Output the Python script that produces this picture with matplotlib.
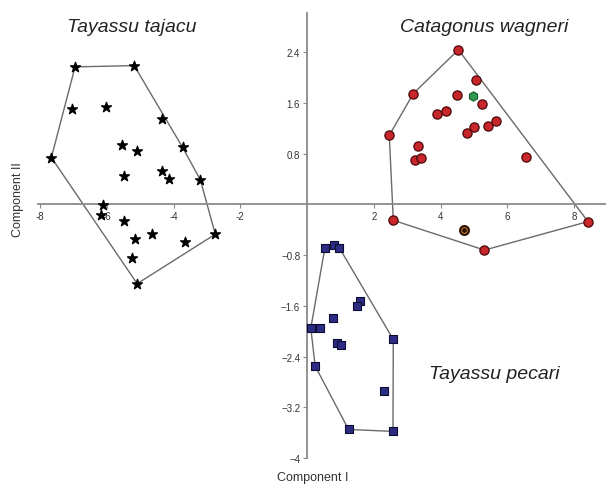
import numpy as np
import matplotlib
matplotlib.use("Agg")
import matplotlib.pyplot as plt

plt.rcParams['font.family'] = ['Liberation Sans', 'DejaVu Sans']

# Component scores
tajacuX = [-6.95, -5.18, -7.05, -6.03, -4.36, -5.53, -5.11, -3.73, -7.66, -5.49, -4.34, -4.15,
           -3.20, -6.11, -6.16, -5.49, -5.15, -4.66, -3.65, -2.75, -5.25, -5.09]
tajacuY = [2.17, 2.19, 1.50, 1.54, 1.35, 0.93, 0.85, 0.90, 0.74, 0.45, 0.52, 0.40,
           0.39, -0.01, -0.16, -0.26, -0.54, -0.47, -0.59, -0.47, -0.84, -1.25]

wagneriX = [4.53, 5.05, 3.18, 4.50, 5.25, 3.90, 4.15, 5.65, 5.42, 5.01, 4.78, 2.46,
            3.32, 3.22, 3.41, 6.54, 2.58, 8.41, 5.31]
wagneriY = [2.44, 1.97, 1.75, 1.72, 1.58, 1.42, 1.48, 1.32, 1.24, 1.22, 1.12, 1.09,
            0.92, 0.70, 0.73, 0.75, -0.25, -0.27, -0.72]
greenPt = (4.97, 1.71)
ringPt = (4.69, -0.40)

pecariX = [0.53, 0.81, 0.96, 1.59, 1.49, 0.78, 0.11, 0.38, 2.58, 0.88, 1.01, 0.24,
           2.31, 1.24, 2.57]
pecariY = [-0.69, -0.64, -0.68, -1.53, -1.61, -1.79, -1.95, -1.95, -2.13, -2.19, -2.22, -2.55,
           -2.95, -3.55, -3.58]

xTicks = [-8, -6, -4, -2, 2, 4, 6, 8]
xTickLabels = ["-8", "-6", "-4", "-2", "2", "4", "6", "8"]
yTicks = [2.4, 1.6, 0.8, -0.8, -1.6, -2.4, -3.2, -4]
yTickLabels = ["2.4", "1.6", "0.8", "\u22120.8", "\u22121.6", "\u22122.4", "\u22123.2", "\u22124"]

# Convex hull (monotone chain)
def convexHull(xs, ys):
    pts = sorted(set(zip(xs, ys)))
    cross = lambda o, a, b: (a[0]-o[0])*(b[1]-o[1]) - (a[1]-o[1])*(b[0]-o[0])
    lower = []
    for p in pts:
        while len(lower) >= 2 and cross(lower[-2], lower[-1], p) <= 0:
            lower.pop()
        lower.append(p)
    upper = []
    for p in reversed(pts):
        while len(upper) >= 2 and cross(upper[-2], upper[-1], p) <= 0:
            upper.pop()
        upper.append(p)
    hull = lower[:-1] + upper[:-1]
    hull.append(hull[0])
    return np.array(hull)

fig = plt.figure(figsize=(6.06, 4.89), dpi=100)
ax = fig.add_axes([38/606, 30/489, 568/606, 445/489])
ax.set_xlim(-8.06, 8.95)
ax.set_ylim(-4.0, 3.02)

hullColor = '#6a6a6a'
for xs, ys in [(tajacuX, tajacuY), (wagneriX, wagneriY), (pecariX, pecariY)]:
    h = convexHull(xs, ys)
    ax.plot(h[:, 0], h[:, 1], color=hullColor, lw=1.0, zorder=2, clip_on=False)

ax.scatter(tajacuX, tajacuY, marker='*', s=55, color='black', zorder=3, clip_on=False)
ax.scatter(wagneriX, wagneriY, marker='o', s=44, facecolor='#c8262b', edgecolor='#4a0808',
           lw=0.9, zorder=3, clip_on=False)
ax.scatter([greenPt[0]], [greenPt[1]], marker='h', s=45, facecolor='#2e9a4e', edgecolor='#145a28',
           lw=0.8, zorder=4)
ax.scatter([ringPt[0]], [ringPt[1]], marker='o', s=40, facecolor='#e08a2a', edgecolor='#2a1205',
           lw=1.6, zorder=4)
ax.scatter([ringPt[0]], [ringPt[1]], marker='o', s=6, color='#2a1205', zorder=5)
ax.scatter(pecariX, pecariY, marker='s', s=40, facecolor='#2c2c84', edgecolor='#0c0c30',
           lw=0.8, zorder=3, clip_on=False)

# Axes crossing at the origin
for side in ['top', 'right']:
    ax.spines[side].set_visible(False)
ax.spines['left'].set_position(('data', 0))
ax.spines['bottom'].set_position(('data', 0))
for side in ['left', 'bottom']:
    ax.spines[side].set_color('#8a8a8a')
    ax.spines[side].set_linewidth(1.3)
ax.set_xticks(xTicks)
ax.set_xticklabels(xTickLabels)
ax.set_yticks(yTicks)
ax.set_yticklabels(yTickLabels)
ax.tick_params(axis='both', length=3, width=0.8, color='#8a8a8a', labelsize=7, labelcolor='#333333', pad=2)

# Group names and axis titles
fig.text(132/606, 1 - 28/489, "Tayassu tajacu", style='italic', fontsize=14, ha='center', va='center', color='#222222')
fig.text(484/606, 1 - 28/489, "Catagonus wagneri", style='italic', fontsize=14, ha='center', va='center', color='#222222')
fig.text(494/606, 1 - 375/489, "Tayassu pecari", style='italic', fontsize=14, ha='center', va='center', color='#222222')
fig.text(18/606, 1 - 200/489, "Component II", rotation=90, fontsize=9, ha='center', va='center', color='#333333')
fig.text(313/606, 1 - 478/489, "Component I", fontsize=9, ha='center', va='center', color='#333333')

fig.savefig("out.png", dpi=100)
